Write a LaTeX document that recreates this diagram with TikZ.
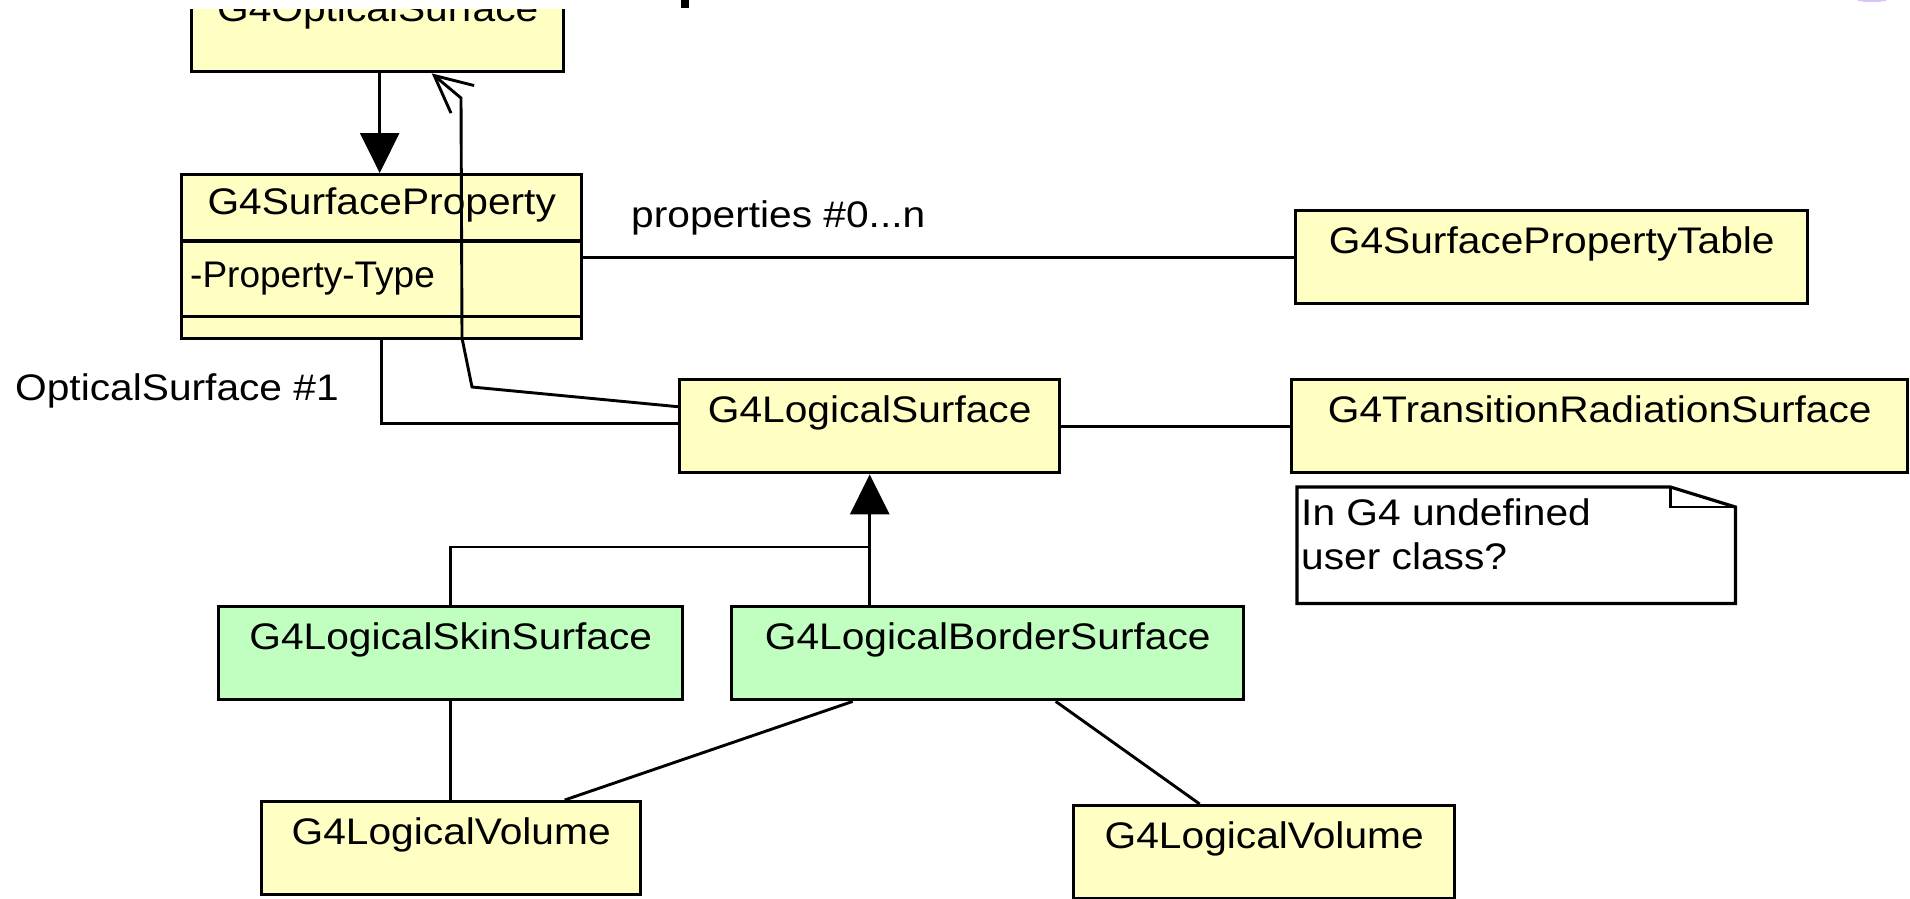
\documentclass[tikz,border=0pt]{standalone}
\usepackage{graphicx}
\usepackage{fontspec}
\setmainfont{Liberation Sans}
\usetikzlibrary{arrows.meta,calc}
\definecolor{uyellow}{RGB}{255,255,196}
\definecolor{ugreen}{RGB}{192,255,192}
\definecolor{upurple}{RGB}{215,195,245}
\newcommand{\ctext}[1]{\scalebox{1.1}[1]{#1}}
\tikzset{
  cls/.style={draw, line width=3.4pt, fill=uyellow, inner sep=0pt, anchor=north west,
              text height=42.5pt, text depth=50.5pt},
  grn/.style={cls, fill=ugreen},
  lbl/.style={inner sep=0pt, anchor=base west},
  conn/.style={line width=2.9pt},
  genarrow/.style={conn, -{Triangle[length=40pt,width=39pt]}},
  openarrow/.style={conn, -{Straight Barb[length=37pt,width=36pt]}},
}
\begin{document}
\begin{tikzpicture}[x=1pt,y=-1pt,font=\fontsize{37}{44}\selectfont]
\useasboundingbox (0,0) rectangle (1910,898);

% clipped top class
\begin{scope}
  \clip (0,9) rectangle (1910,898);
  \node[cls, minimum width=372pt] (opt) at (190,-23) {\ctext{G4OpticalSurface}};
\end{scope}

% stray marks at the top edge
\fill (681,0) rectangle (689,8);
\fill[upurple] (1872,0) ellipse (15 and 2);

% G4SurfaceProperty with compartments
\node[cls, minimum width=400pt, text height=40pt, text depth=124pt] (sp) at (180,173) {\ctext{G4SurfaceProperty}};
\draw[line width=3.4pt] ([yshift=-68pt]sp.north west) -- ([yshift=-68pt]sp.north east);
\draw[line width=3.4pt] ([yshift=24pt]sp.south west) -- ([yshift=24pt]sp.south east);
\node[lbl] (spattr) at (190,287) {-Property-Type};

\node[cls, minimum width=512pt] (tab) at (1294,209) {\ctext{G4SurfacePropertyTable}};
\node[cls, minimum width=380pt] (ls) at (678,378) {\ctext{G4LogicalSurface}};
\node[cls, minimum width=616pt] (tr) at (1290,378) {\ctext{G4TransitionRadiationSurface}};
\node[grn, minimum width=464pt] (skin) at (217,605) {\ctext{G4LogicalSkinSurface}};
\node[grn, minimum width=512pt] (border) at (730,605) {\ctext{G4LogicalBorderSurface}};
\node[cls, minimum width=379pt] (lv1) at (260,800) {\ctext{G4LogicalVolume}};
\node[cls, minimum width=381pt] (lv2) at (1072,804) {\ctext{G4LogicalVolume}};

% note
\node[inner sep=0pt, minimum width=438pt, minimum height=116pt, anchor=north west] (note) at (1297,487) {};
\draw[line width=3.2pt, fill=white] (note.north west) -- ([xshift=-65pt]note.north east)
  -- ([yshift=-20pt]note.north east) -- (note.south east) -- (note.south west) -- cycle;
\draw[line width=2.9pt] ([xshift=-65pt]note.north east) -- ++(0,20) -- ([yshift=-20pt]note.north east);
\node[lbl] (note1) at (1301,525) {\ctext{In G4 undefined}};
\node[lbl] (note2) at (1301,569) {\ctext{user class?}};

% labels
\node[lbl] (lprop) at (631,227) {\ctext{properties \#0...n}};
\node[lbl] (lopt) at (15,400) {\ctext{OpticalSurface \#1}};

% connectors
\draw[genarrow] ([xshift=2pt]opt.south) -- ([xshift=-2pt]sp.north);
\draw[openarrow] ([yshift=19.5pt]ls.west) -- (472,387) -- (462,338) -- (461,98) -- ([xshift=54pt]opt.south);
\draw[conn] (sp.south) |- ([yshift=2.5pt]ls.west);
\draw[conn] (tab.west -| sp.east) -- (tab.west);
\draw[conn] (ls.east) -- (tr.west);
\coordinate (junc) at (868,547);
\draw[conn] (skin.north) |- (junc);
\draw[genarrow] (border.north -| ls.south) -- (ls.south);
\draw[conn] (skin.south) -- (skin.south |- lv1.north);
\draw[conn] ([xshift=-135pt]border.south) -- ([xshift=113.5pt]lv1.north);
\draw[conn] ([xshift=68pt]border.south) -- ([xshift=-64.5pt]lv2.north);
\end{tikzpicture}
\end{document}
